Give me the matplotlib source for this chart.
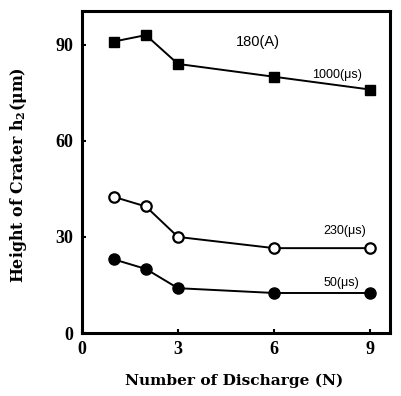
import matplotlib
matplotlib.use('Agg')
import matplotlib.pyplot as plt

plt.rcParams['font.family'] = ['Liberation Serif', 'DejaVu Serif']
plt.rcParams['mathtext.fontset'] = 'dejavuserif'

# data
discharges = [1, 2, 3, 6, 9]
h_1000us = [91, 93, 84, 80, 76]
h_230us = [42.5, 39.5, 30, 26.5, 26.5]
h_50us = [23, 20, 14, 12.5, 12.5]

x_ticks = [0, 3, 6, 9]
y_ticks = [0, 30, 60, 90]

fig = plt.figure(figsize=(4.01, 3.96), dpi=100)
ax = fig.add_axes([0.204, 0.159, 0.769, 0.813])

ax.plot(discharges, h_1000us, color='black', lw=1.4, marker='s', ms=7,
        mfc='black', mec='black')
ax.plot(discharges, h_230us, color='black', lw=1.4, marker='o', ms=7.5,
        mfc='white', mec='black', mew=1.6)
ax.plot(discharges, h_50us, color='black', lw=1.4, marker='o', ms=8,
        mfc='black', mec='black')

sans = ['Liberation Sans', 'DejaVu Sans']
ax.text(5.5, 91, '180(A)', ha='center', va='center', fontsize=10.5,
        family=sans)
ax.text(7.95, 80.5, '1000(μs)', ha='center', va='center', fontsize=9,
        family=sans)
ax.text(8.2, 32, '230(μs)', ha='center', va='center', fontsize=9,
        family=sans)
ax.text(8.1, 15.5, '50(μs)', ha='center', va='center', fontsize=9,
        family=sans)

ax.set_xlim(0, 9.62)
ax.set_ylim(0, 100.5)
ax.set_xticks(x_ticks)
ax.set_yticks(y_ticks)
ax.tick_params(direction='in', length=3, width=1.5, labelsize=13, pad=6)
for lab in ax.get_xticklabels() + ax.get_yticklabels():
    lab.set_fontweight('bold')

for sp in ax.spines.values():
    sp.set_linewidth(2.2)

ax.set_xlabel('Number of Discharge (N)', fontsize=11.1, fontweight='bold',
              family='DejaVu Serif')
ax.xaxis.set_label_coords(0.493, -0.125)
ax.set_ylabel(r'Height of Crater h$_{\mathbf{2}}$(μm)', fontsize=11.4,
              fontweight='bold', family='DejaVu Serif')
ax.yaxis.set_label_coords(-0.17, 0.49)

fig.savefig('out.png', dpi=100, facecolor='white')
